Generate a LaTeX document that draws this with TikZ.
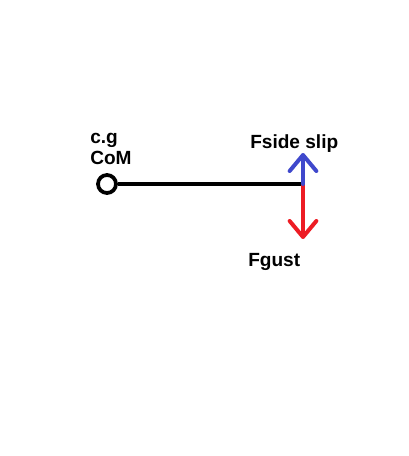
\documentclass[tikz,border=0pt]{standalone}
\usepackage{fontspec}
\setmainfont{Liberation Sans}
\usetikzlibrary{arrows.meta}
\definecolor{pblue}{RGB}{63,72,204}
\definecolor{pred}{RGB}{237,28,36}
\tikzset{
  lbl/.style={font=\bfseries\fontsize{14.3}{16}\selectfont, inner sep=0pt, anchor=base west},
  barb/.style={-{Straight Barb[length=12pt,width=20pt,line width=3pt,round]}, line width=3pt, line cap=round}
}
\begin{document}
\begin{tikzpicture}[x=0.75pt,y=-0.75pt]
\useasboundingbox (0,0) rectangle (408,456);
\node[circle, draw, line width=2.8pt, minimum size=13.5pt, inner sep=0pt] (cg) at (107,184) {};
\coordinate (end) at (303,184);
\coordinate (up) at (303,153);
\coordinate (down) at (303,239);
\draw[line width=3pt] (cg.east) -- (end);
\draw[barb, pred] (end) -- (down);
\draw[barb, pblue] (end) -- (up);
\node[lbl] (t1) at (90,143) {c.g};
\node[lbl] (t2) at (90,164) {CoM};
\node[lbl] (t3) at (250,148) {Fside slip};
\node[lbl] (t4) at (248,266) {Fgust};
\end{tikzpicture}
\end{document}
